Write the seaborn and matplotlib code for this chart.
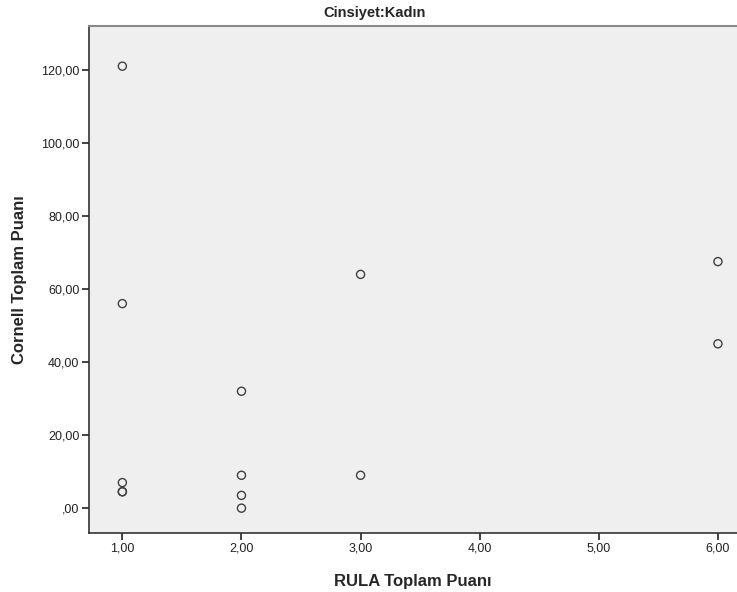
import matplotlib
matplotlib.use("Agg")
import matplotlib.pyplot as plt
import matplotlib.ticker as mticker
import seaborn as sns
import pandas as pd

# values (women only)
rula = [1, 1, 1, 1, 1, 2, 2, 2, 2, 3, 3, 6, 6]
cornell = [121.0, 56.0, 7.0, 4.5, 4.5, 32.0, 9.0, 3.5, 0.0, 64.0, 9.0, 67.5, 45.0]
x_ticks = [1, 2, 3, 4, 5, 6]
y_ticks = [0, 20, 40, 60, 80, 100, 120]

df = pd.DataFrame({'RULA Toplam Puanı': rula, 'Cornell Toplam Puanı': cornell})

sns.set_style('white')
plt.rcParams['font.family'] = ['Liberation Sans', 'DejaVu Sans']


def comma_fmt(v, pos):
    s = '%.2f' % v
    s = s.replace('.', ',')
    if s.startswith('0,'):
        s = s[1:]
    return s


fig = plt.figure(figsize=(7.37, 5.92), dpi=100)
ax = fig.add_axes([89 / 737, 1 - 533 / 592, 1 - 89 / 737, (533 - 26) / 592])
ax.set_facecolor('#efefef')

sns.scatterplot(data=df, x='RULA Toplam Puanı', y='Cornell Toplam Puanı', ax=ax,
                s=34, facecolor='none', edgecolor='#404040', linewidth=1.0)

ax.set_xlim(0.72, 6.16)
ax.set_ylim(-6.8, 132)
ax.set_xticks(x_ticks)
ax.set_yticks(y_ticks)
ax.xaxis.set_major_formatter(mticker.FuncFormatter(comma_fmt))
ax.yaxis.set_major_formatter(mticker.FuncFormatter(comma_fmt))
ax.tick_params(axis='both', direction='out', length=5, width=1.2, color='#222222',
               labelsize=9, labelcolor='#222222', bottom=True, left=True, pad=2)

for side in ['left', 'bottom']:
    ax.spines[side].set_color('#333333')
    ax.spines[side].set_linewidth(1.2)
ax.spines['top'].set_color('#888888')
ax.spines['top'].set_linewidth(1.5)
ax.spines['right'].set_visible(False)

ax.set_xlabel('RULA Toplam Puanı', fontsize=12, fontweight='bold', labelpad=14)
ax.set_ylabel('Cornell Toplam Puanı', fontsize=12, fontweight='bold', labelpad=10)

fig.text(375 / 737, 1 - 13 / 592, 'Cinsiyet:Kadın', ha='center', va='center',
         fontsize=10.5, fontweight='bold')

fig.savefig('out.png', dpi=100)
